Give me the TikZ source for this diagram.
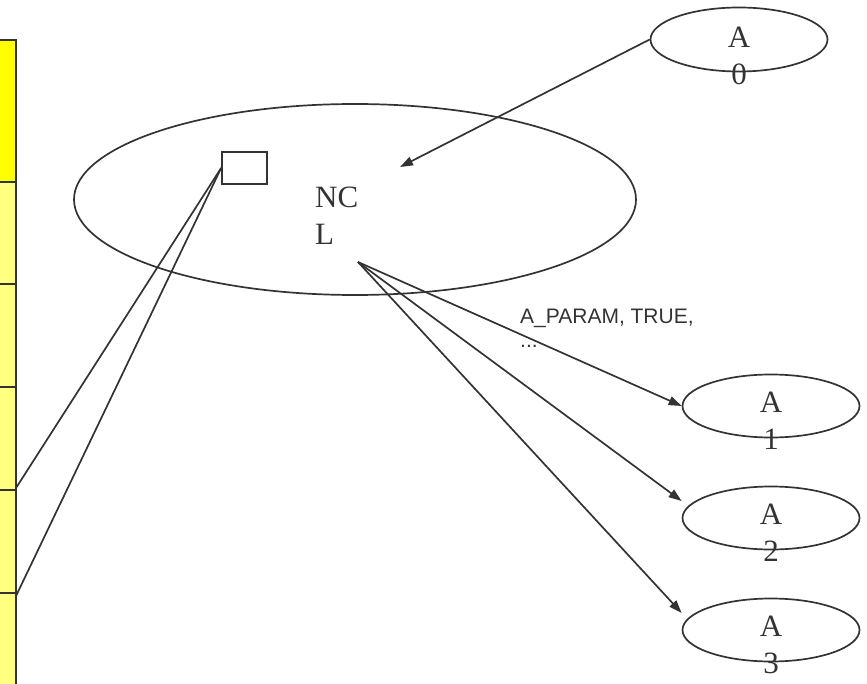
\documentclass[tikz,border=0pt]{standalone}
\usepackage{fontspec}
\setmainfont{Liberation Serif}
\setsansfont{Liberation Sans}
\usetikzlibrary{arrows.meta,shapes.geometric}
\definecolor{ink}{HTML}{333333}
\definecolor{ylw}{HTML}{FFFF00}
\definecolor{ylwl}{HTML}{FFFF80}

\begin{document}
\begin{tikzpicture}[x=1pt,y=-1pt,
    oval/.style={ellipse,draw=ink,line width=1.7pt,inner sep=0pt},
    lbl/.style={ink,align=center,inner sep=0pt,font=\fontsize{31}{37}\selectfont},
    conn/.style={ink,line width=1.7pt},
    arr/.style={conn,-{Triangle[length=13pt,width=9pt]}}]
  \useasboundingbox (0,0) rectangle (867,684);
  % table column on the left
  \fill[ylw] (-3,40) rectangle (16,182);
  \fill[ylwl] (-3,182) rectangle (16,690);
  \draw[ink,line width=1.7pt] (-3,40)--(16,40)--(16,690);
  \foreach \yy in {182,284,387,490,593}
    \draw[ink,line width=1.7pt] (-3,\yy)--(16,\yy);
  \coordinate (row4) at (16,488);
  \coordinate (row5) at (16,596);
  % big ellipse
  \node[oval,minimum width=562pt,minimum height=191pt] (ncl) at (355,199.5) {};
  \node[lbl,anchor=north west,align=left] (ncltxt) at (315,187) {NC\\L};
  \node[draw=ink,line width=1.7pt,minimum width=45pt,minimum height=32pt,inner sep=0pt] (slot) at (244.5,168) {};
  \coordinate (fan) at (358,262);
  \coordinate (hit) at (400,167);
  % small ellipses
  \node[oval,minimum width=177pt,minimum height=64pt] (a0) at (739,39.5) {};
  \node[oval,minimum width=177pt,minimum height=63pt] (a1) at (771,406) {};
  \node[oval,minimum width=177pt,minimum height=63pt] (a2) at (771,518) {};
  \node[oval,minimum width=177pt,minimum height=63pt] (a3) at (771,630) {};
  \node[lbl,anchor=north] (a0txt) at (739,27) {A\\0};
  \node[lbl,anchor=north] (a1txt) at (771,392) {A\\1};
  \node[lbl,anchor=north] (a2txt) at (771,504) {A\\2};
  \node[lbl,anchor=north] (a3txt) at (771,616) {A\\3};
  \node[ink,anchor=north west,align=left,inner sep=0pt,font=\sffamily\fontsize{21}{24}\selectfont] (param) at (520,309) {A\_PARAM, TRUE,\\...};
  % connectors
  \draw[conn] (slot.west) -- (row4);
  \draw[conn] (slot.west) -- (row5);
  \draw[arr] (a0.west) -- (hit);
  \draw[arr] (fan) -- (a1.west);
  \draw[arr] (fan) -- ([yshift=17pt]a2.west);
  \draw[arr] (fan) -- ([yshift=17pt]a3.west);
\end{tikzpicture}
\end{document}
